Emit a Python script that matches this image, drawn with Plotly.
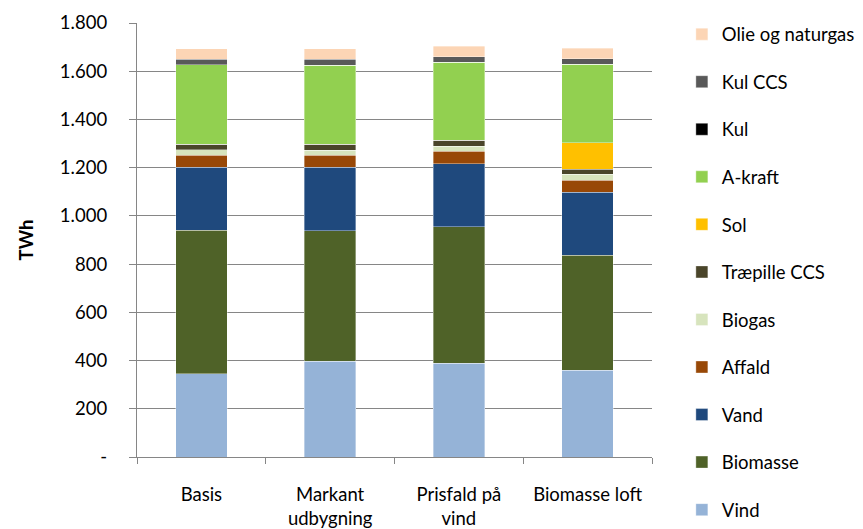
import plotly.graph_objects as go

# Scenarios on the x axis
categories = ["Basis", "Markant<br>udbygning", "Prisfald på<br>vind", "Biomasse loft"]

# Electricity production by source (TWh), stacked bottom to top
vind = [346, 397, 388, 360]
biomasse = [594, 542, 566, 476]
vand = [262, 262, 263, 262]
affald = [50, 51, 51, 50]
biogas = [23, 21, 21, 24]
traepille_ccs = [22, 24, 25, 22]
sol = [0, 0, 0, 109]
a_kraft = [330, 328, 324, 326]
kul = [0, 0, 0, 0]
kul_ccs = [23, 24, 22, 22]
olie_naturgas = [43, 44, 44, 45]

series = [
    ("Vind", vind, "#95B3D7"),
    ("Biomasse", biomasse, "#4F6228"),
    ("Vand", vand, "#1F497D"),
    ("Affald", affald, "#984807"),
    ("Biogas", biogas, "#D7E4BD"),
    ("Træpille CCS", traepille_ccs, "#4A452A"),
    ("Sol", sol, "#FFC000"),
    ("A-kraft", a_kraft, "#92D050"),
    ("Kul", kul, "#000000"),
    ("Kul CCS", kul_ccs, "#595959"),
    ("Olie og naturgas", olie_naturgas, "#FCD5B5"),
]

y_ticks = [0, 200, 400, 600, 800, 1000, 1200, 1400, 1600, 1800]
y_ticktext = ["-", "200", "400", "600", "800", "1.000", "1.200", "1.400", "1.600", "1.800"]

FONT = "Lato, 'Open Sans', sans-serif"
FS = 18.5
GRID = "#868686"

fig = go.Figure()
n = len(series)
for i, (name, values, color) in enumerate(series):
    fig.add_trace(go.Bar(
        x=categories, y=values, name=name, legendgroup=name,
        legendrank=100 + (n - i),  # top of the stack listed first
        marker=dict(color=color, line=dict(color="rgba(255,255,255,0.6)", width=0.6)),
    ))

fig.update_layout(
    barmode="stack",
    bargap=0.6,
    width=863, height=529,
    margin=dict(l=137, r=211, t=23, b=72, autoexpand=False),
    plot_bgcolor="white", paper_bgcolor="white",
    font=dict(family=FONT, size=FS, color="#000000"),
    showlegend=True,
    legend=dict(
        traceorder="grouped", tracegroupgap=20.5,
        x=1.058, xanchor="left", y=1.017, yanchor="top",
        maxheight=1,
        font=dict(size=FS), itemclick=False,
        bgcolor="rgba(0,0,0,0)",
    ),
    xaxis=dict(
        automargin=False,
        showline=True, linecolor=GRID, linewidth=1.3,
        ticks="outside", tickson="boundaries", ticklen=6, tickcolor=GRID, tickwidth=1.3,
        tickfont=dict(size=FS), showgrid=False, ticklabelstandoff=21,
    ),
    yaxis=dict(
        automargin=False,
        range=[0, 1800], tickvals=y_ticks, ticktext=y_ticktext,
        showline=True, linecolor=GRID, linewidth=1.3,
        ticks="outside", ticklen=7, tickcolor=GRID, tickwidth=1.3,
        showgrid=True, gridcolor=GRID, gridwidth=1.3, zeroline=False,
        tickfont=dict(size=FS), ticklabelstandoff=18,
        title=dict(text="<b>TWh</b>", font=dict(size=FS), standoff=21),
    ),
)

fig.write_html("out.html")
